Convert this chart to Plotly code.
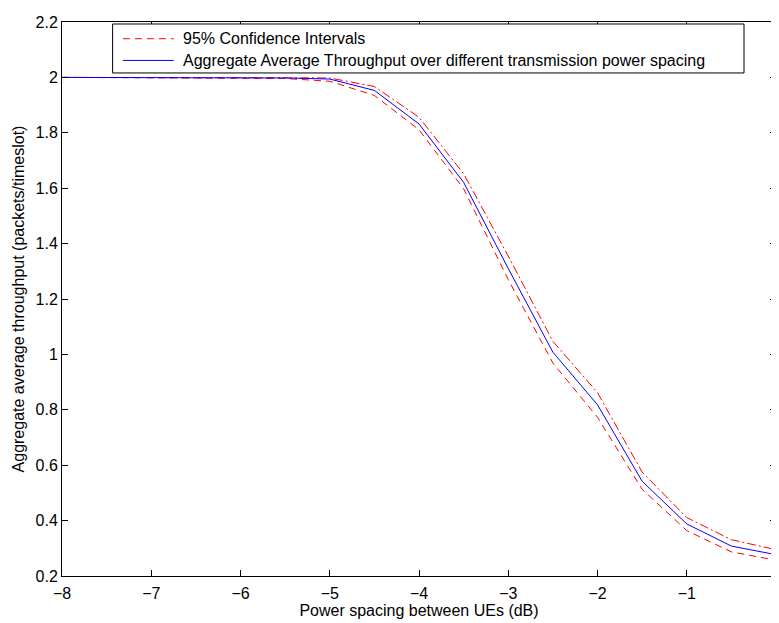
import plotly.graph_objects as go

power_spacing = [-8, -7.5, -7, -6.5, -6, -5.5, -5, -4.5, -4, -3.5, -3, -2.5, -2, -1.5, -1, -0.5, 0]
throughput_mean = [2.0, 2.0, 2.0, 2.0, 2.0, 1.998, 1.994, 1.953, 1.832, 1.621, 1.31, 1.008, 0.818, 0.542, 0.388, 0.308, 0.277]
ci_upper = [2.0, 2.0, 2.0, 2.0, 2.0, 2.0, 1.998, 1.967, 1.856, 1.652, 1.355, 1.047, 0.862, 0.575, 0.411, 0.331, 0.295]
ci_lower = [2.0, 1.999, 1.998, 1.998, 1.998, 1.996, 1.986, 1.935, 1.811, 1.598, 1.27, 0.969, 0.773, 0.513, 0.364, 0.287, 0.257]

x_ticks = [-8, -7, -6, -5, -4, -3, -2, -1, 0]
x_ticklabels = ["\u22128", "\u22127", "\u22126", "\u22125", "\u22124", "\u22123", "\u22122", "\u22121", "0"]
y_ticks = [0.2, 0.4, 0.6, 0.8, 1.0, 1.2, 1.4, 1.6, 1.8, 2.0, 2.2]
y_ticklabels = ["0.2", "0.4", "0.6", "0.8", "1", "1.2", "1.4", "1.6", "1.8", "2", "2.2"]

legend_labels = ["95% Confidence Intervals",
                 "Aggregate Average Throughput over different transmission power spacing"]

RED = "#FF0000"
BLUE = "#0000FF"
DASH = "7px,5px"
DASHDOT = "9px,3px,2px,3px"

fig = go.Figure()
fig.add_trace(go.Scatter(x=power_spacing, y=ci_lower, mode="lines", name=legend_labels[0],
                         showlegend=False, line=dict(color=RED, width=1, dash=DASH)))
fig.add_trace(go.Scatter(x=power_spacing, y=ci_upper, mode="lines", name="95% CI upper",
                         showlegend=False, line=dict(color=RED, width=1, dash=DASHDOT)))
fig.add_trace(go.Scatter(x=power_spacing, y=throughput_mean, mode="lines", name=legend_labels[1],
                         showlegend=False, line=dict(color=BLUE, width=1)))

# MATLAB-style legend box, in paper coordinates
box_x0, box_x1, box_y0, box_y1 = 0.0709, 0.9552, 0.908, 0.9964
row_y = [0.9698, 0.9306]
sample_x0, sample_x1, text_x = 0.0853, 0.1566, 0.1664
shapes = [dict(type="rect", xref="paper", yref="paper", x0=box_x0, x1=box_x1, y0=box_y0, y1=box_y1,
               line=dict(color="black", width=1), fillcolor="white", layer="above")]
shapes.append(dict(type="line", xref="paper", yref="paper", x0=sample_x0, x1=sample_x1,
                   y0=row_y[0], y1=row_y[0], line=dict(color=RED, width=1, dash=DASH), layer="above"))
shapes.append(dict(type="line", xref="paper", yref="paper", x0=sample_x0, x1=sample_x1,
                   y0=row_y[1], y1=row_y[1], line=dict(color=BLUE, width=1), layer="above"))

annotations = [dict(xref="paper", yref="paper", x=text_x, y=row_y[i], text=legend_labels[i],
                    showarrow=False, xanchor="left", yanchor="middle",
                    font=dict(size=16, color="black")) for i in range(2)]

axis_common = dict(showline=True, linecolor="black", linewidth=1, mirror="allticks",
                   ticks="inside", ticklen=6, tickcolor="black", showgrid=False,
                   zeroline=False, tickfont=dict(size=16, color="black"),
                   ticklabeloverflow="allow")

# the page body adds an 8px margin; margins are shifted so the plot lands where the reference has it
fig.update_layout(
    width=779, height=623,
    margin=dict(l=54, r=11, t=6, b=55),
    paper_bgcolor="white", plot_bgcolor="white",
    font=dict(family="Liberation Sans, Arial, sans-serif", size=16, color="black"),
    showlegend=False,
    xaxis=dict(range=[-8, 0], tickvals=x_ticks, ticktext=x_ticklabels, ticklabelstandoff=3,
               title=dict(text="Power spacing between UEs (dB)", standoff=3, font=dict(size=16)),
               **axis_common),
    yaxis=dict(range=[0.2, 2.2], tickvals=y_ticks, ticktext=y_ticklabels,
               title=dict(text="Aggregate average throughput (packets/timeslot)", standoff=6, font=dict(size=16)),
               **axis_common),
    shapes=shapes,
    annotations=annotations,
)

fig.write_html("out.html")
